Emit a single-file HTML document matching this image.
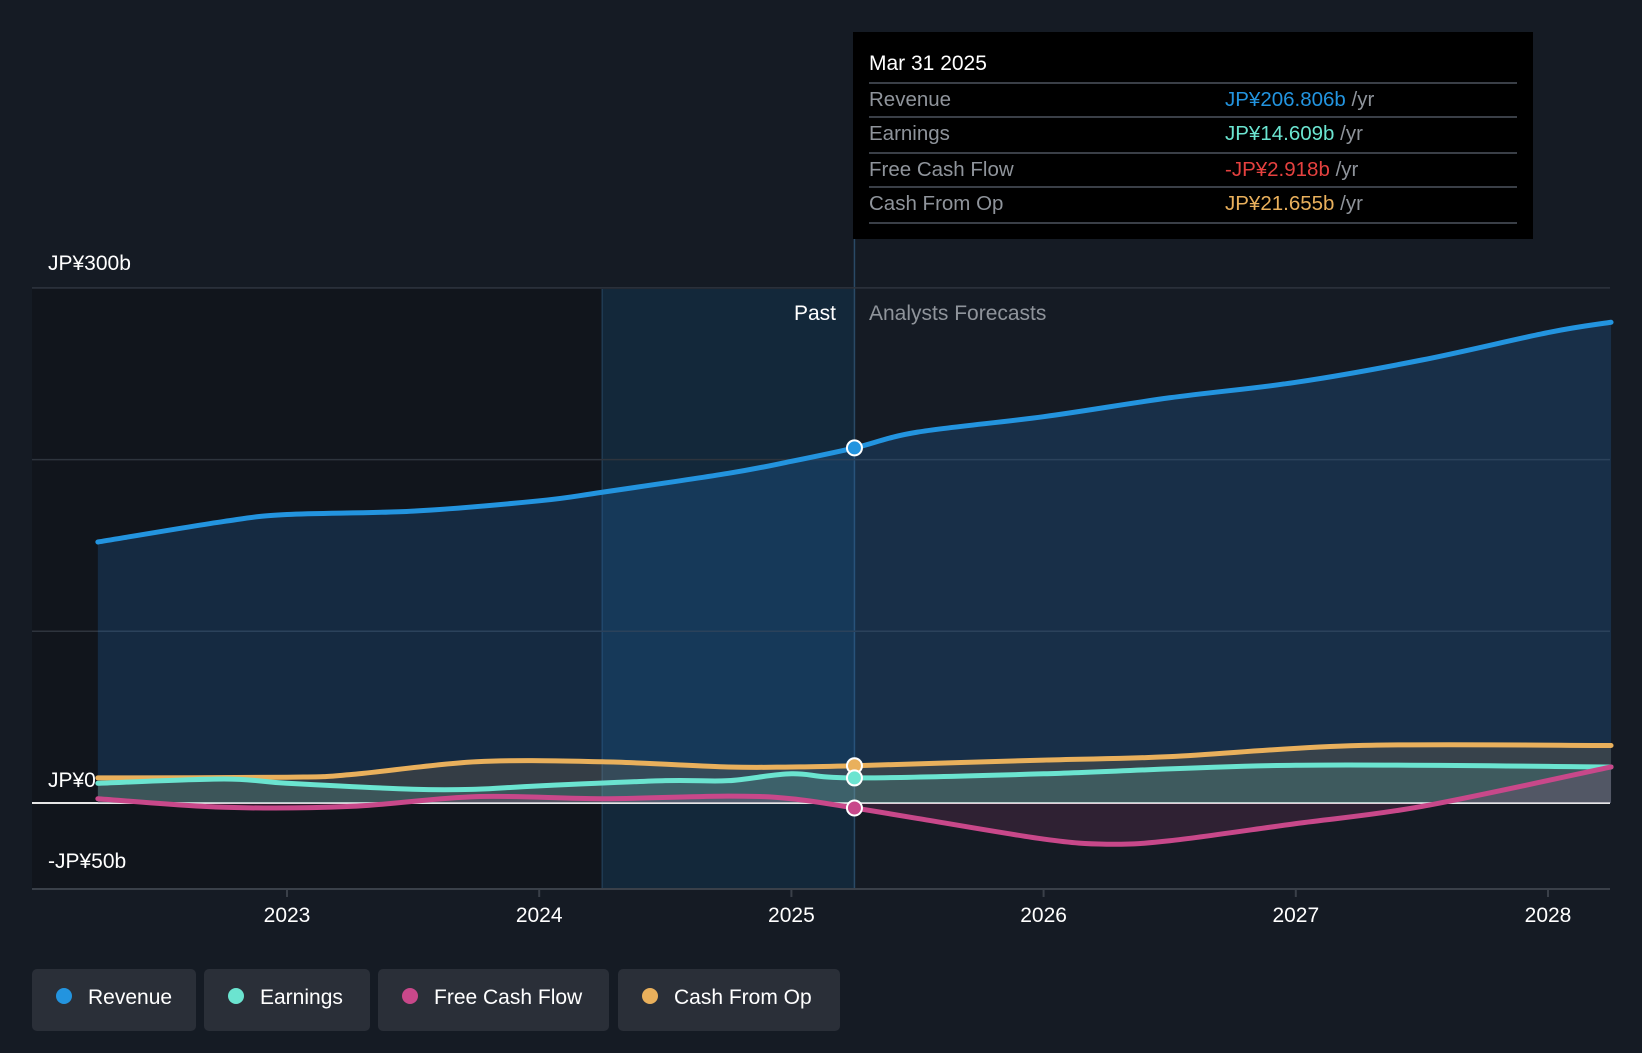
<!DOCTYPE html>
<html><head><meta charset="utf-8"><style>
html,body{margin:0;padding:0;background:#151b24;}
body{width:1642px;height:1048px;overflow:hidden;font-family:"Liberation Sans",sans-serif;}
</style></head><body>
<svg id="chart" width="1642" height="1048" xmlns="http://www.w3.org/2000/svg" style="font-family:'Liberation Sans',sans-serif">
<rect width="1642" height="1048" fill="#151b24"/>
<g id="bg"></g>
<g id="grid"></g>
<g id="areas"></g>
<g id="lines"></g>
<g id="dots"></g>
<g id="axis"></g>
<g id="tooltip">
<rect x="853" y="32" width="680" height="207" fill="#000"/>
<text x="869" y="70" font-size="21" fill="#fff">Mar 31 2025</text>
<line x1="869" x2="1517" y1="83" y2="83" stroke="#3a3f47" stroke-width="2"/>
<text x="869" y="106" font-size="20.5" fill="#8f949b">Revenue</text>
<text x="1225" y="106" font-size="20.5" fill="#2394df">JP¥206.806b <tspan fill="#8f949b">/yr</tspan></text>
<line x1="869" x2="1517" y1="117" y2="117" stroke="#3a3f47" stroke-width="2"/>
<text x="869" y="140" font-size="20.5" fill="#8f949b">Earnings</text>
<text x="1225" y="140" font-size="20.5" fill="#6be4d0">JP¥14.609b <tspan fill="#8f949b">/yr</tspan></text>
<line x1="869" x2="1517" y1="153" y2="153" stroke="#3a3f47" stroke-width="2"/>
<text x="869" y="176" font-size="20.5" fill="#8f949b">Free Cash Flow</text>
<text x="1225" y="176" font-size="20.5" fill="#e5413f">-JP¥2.918b <tspan fill="#8f949b">/yr</tspan></text>
<line x1="869" x2="1517" y1="187" y2="187" stroke="#3a3f47" stroke-width="2"/>
<text x="869" y="210" font-size="20.5" fill="#8f949b">Cash From Op</text>
<text x="1225" y="210" font-size="20.5" fill="#e9b05c">JP¥21.655b <tspan fill="#8f949b">/yr</tspan></text>
<line x1="869" x2="1517" y1="223" y2="223" stroke="#3a3f47" stroke-width="2"/>
</g>
<g id="legend"></g>
</svg>
<script>
const revYears=[2022.25,2022.75,2023,2023.5,2024,2024.25,2024.75,2025,2025.25,2025.5,2026,2026.5,2027,2027.5,2028,2028.25];
const revenue=[152,164,168,170,176,181,192,199,206.8,216,225,236,245,258,274,280];
const earnYears=[2022.25,2022.75,2023,2023.5,2023.75,2024,2024.5,2024.75,2025,2025.25,2026,2027,2028.25];
const earnings=[11.5,14,11.5,8,8,10,13,13,17,14.6,17,22,21];
const fcfYears=[2022.25,2022.75,2023.25,2023.75,2024.25,2024.75,2025,2025.25,2025.5,2026,2026.25,2026.5,2027,2027.5,2028.25];
const fcf=[2.5,-2.5,-2,3.7,2.5,4,2.5,-2.9,-9,-21,-24,-22,-12,-2,21];
const cfoYears=[2022.25,2023,2023.25,2023.75,2024.25,2024.75,2025,2025.25,2026,2026.5,2027.25,2028.25];
const cfo=[14.6,15,16.5,24,24,21,21,21.7,25,27,33.5,33.5];
const xTicks=[2023,2024,2025,2026,2027,2028];
const yTicks=[300,200,100,0,-50];
const yTickLabels={300:"JP¥300b",0:"JP¥0","-50":"-JP¥50b"};

const X=t=>287+(t-2023)*252.2;
const Y=v=>803-v*1.717;
const NS="http://www.w3.org/2000/svg";
function mk(tag,attrs,parent){const e=document.createElementNS(NS,tag);for(const k in attrs)e.setAttribute(k,attrs[k]);document.getElementById(parent).appendChild(e);return e;}
function smooth(xs,vs){const p=xs.map((t,i)=>[X(t),Y(vs[i])]);let d=`M${p[0][0]},${p[0][1]}`;
for(let i=0;i<p.length-1;i++){const p0=p[i-1]||p[i],p1=p[i],p2=p[i+1],p3=p[i+2]||p2;
const c1=[p1[0]+(p2[0]-p0[0])/6,p1[1]+(p2[1]-p0[1])/6],c2=[p2[0]-(p3[0]-p1[0])/6,p2[1]-(p3[1]-p1[1])/6];
d+=` C${c1[0]},${c1[1]} ${c2[0]},${c2[1]} ${p2[0]},${p2[1]}`;}return d;}

const now=2025.25,x0=X(2022.25),xN=X(now),xEnd=X(2028.25),xP=X(2024.25);
let e;
e=mk('rect',{x:32,y:289,width:xP-32,height:600,fill:'#11151c'},'bg');

e=mk('rect',{x:xP,y:289,width:xN-xP,height:600,fill:'#13283a'},'bg');

mk('line',{x1:xP,x2:xP,y1:289,y2:889,stroke:'#1f3a52','stroke-width':1.5},'bg');
e=mk('line',{x1:xN,x2:xN,y1:239,y2:889,stroke:'#2a4a66','stroke-width':1.5},'bg');


yTicks.forEach(v=>{if(v!==-50){e=mk('line',{x1:32,x2:1610,y1:Y(v),y2:Y(v),stroke:v===0?'#e6e6e6':'#2e343d','stroke-width':v===0?2:1.5},'grid');
}
if(yTickLabels[v]){e=mk('text',{x:48,y:v===300?Y(v)-18:(v===0?Y(v)-16:Y(v)-21),'font-size':21,fill:'#fff'},'axis');e.textContent=yTickLabels[v];
}});
mk('line',{x1:32,x2:1610,y1:889,y2:889,stroke:'#3a4049','stroke-width':2},'axis');
xTicks.forEach(t=>{mk('line',{x1:X(t),x2:X(t),y1:889,y2:897,stroke:'#3a4049','stroke-width':2},'axis');
e=mk('text',{x:X(t),y:922,'font-size':21,fill:'#fff','text-anchor':'middle'},'axis');e.textContent=t;
});
e=mk('text',{x:836,y:320,'font-size':21,fill:'#fff','text-anchor':'end'},'axis');e.textContent='Past';

e=mk('text',{x:869,y:320,'font-size':21,fill:'#8f949b'},'axis');e.textContent='Analysts Forecasts';


const series=[
 {n:'revenue',xs:revYears,vs:revenue,c:'#2394df',fill:'rgba(35,120,200,0.22)'},
 {n:'cash-from-op',xs:cfoYears,vs:cfo,c:'#e9b05c',fill:'rgba(233,176,92,0.15)'},
 {n:'earnings',xs:earnYears,vs:earnings,c:'#6be4d0',fill:'rgba(107,228,208,0.15)'},
 {n:'free-cash-flow',xs:fcfYears,vs:fcf,c:'#c8488a',fill:'rgba(200,72,138,0.15)'}];
series.forEach(s=>{const d=smooth(s.xs,s.vs);
 const a=mk('path',{d:d+` L${X(s.xs[s.xs.length-1])},${Y(0)} L${X(s.xs[0])},${Y(0)} Z`,fill:s.fill},'areas');
 
 const l=mk('path',{d:d,fill:'none',stroke:s.c,'stroke-width':5,'stroke-linecap':'round'},'lines');
 
 const i=s.xs.indexOf(now);
 const c=mk('circle',{cx:X(now),cy:Y(s.vs[i]),r:7.5,fill:s.c,stroke:'#fff','stroke-width':2},'dots');
 });

const leg=[['Revenue','#2394df',32,164],['Earnings','#6be4d0',204,166],['Free Cash Flow','#c8488a',378,231],['Cash From Op','#e9b05c',618,222]];
leg.forEach(([t,c,x,w])=>{const g=mk('g',{},'legend');
 
 const r=document.createElementNS(NS,'rect');[['x',x],['y',969],['width',w],['height',62],['rx',5],['fill','#2a2f38']].forEach(a=>r.setAttribute(a[0],a[1]));g.appendChild(r);
 const ci=document.createElementNS(NS,'circle');[['cx',x+32],['cy',996],['r',8],['fill',c]].forEach(a=>ci.setAttribute(a[0],a[1]));g.appendChild(ci);
 const tx=document.createElementNS(NS,'text');[['x',x+56],['y',1004],['font-size',21],['fill','#fff']].forEach(a=>tx.setAttribute(a[0],a[1]));tx.textContent=t;g.appendChild(tx);});
</script>
</body></html>
